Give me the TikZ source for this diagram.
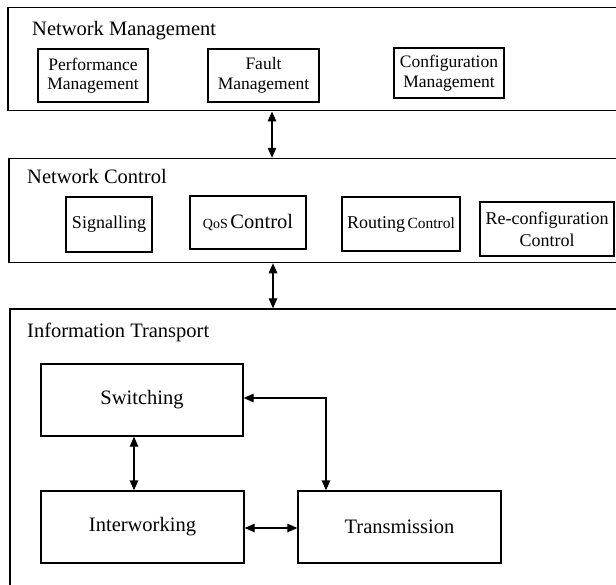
\documentclass[tikz,border=0pt]{standalone}
\usepackage{fontspec}
\setmainfont{Liberation Serif}
\usetikzlibrary{arrows.meta}
\begin{document}
\begin{tikzpicture}[x=1pt,y=-1pt,
  layer/.style={draw, line width=1.5pt, rectangle, inner sep=0pt},
  unit/.style={draw, line width=1.3pt, rectangle, inner sep=0pt, align=center},
  title/.style={anchor=base west, inner sep=0pt, font=\fontsize{20.5}{24}\selectfont},
  link/.style={line width=1.3pt, {Triangle[length=10pt,width=8.5pt]}-{Triangle[length=10pt,width=8.5pt]}}]
\useasboundingbox (0,0) rectangle (616,584);
\clip (0,0) rectangle (616,584);

% three layers (they run on past the right and lower edges)
\node[layer, minimum width=640pt, minimum height=103.4pt] (nm) at (328,59) {};
\node[layer, minimum width=639pt, minimum height=104pt] (nc) at (328.5,210.5) {};
\node[layer, minimum width=638pt, minimum height=331pt] (it) at (329,474.5) {};

\node[title] (nmt) at (32,35) {Network Management};
\node[title] (nct) at (27,183) {Network Control};
\node[title] (itt) at (27,337) {Information Transport};

% management functions
\node[unit, minimum width=110pt, minimum height=53pt,
      font=\fontsize{17.5}{19.5}\selectfont] (perf) at (93,75.5) {Performance\\Management};
\node[unit, minimum width=111pt, minimum height=53pt,
      font=\fontsize{17.5}{19.5}\selectfont] (fault) at (263.5,75.5) {Fault\\Management};
\node[unit, minimum width=110pt, minimum height=50pt,
      font=\fontsize{17.5}{19.5}\selectfont] (conf) at (449,73) {Configuration\\Management};

% control functions
\node[unit, minimum width=86pt, minimum height=55pt,
      font=\fontsize{18}{20}\selectfont] (sig) at (109,224.5) {Signalling};
\node[unit, minimum width=116pt, minimum height=53pt] (qos) at (248,222.5)
      {{\fontsize{14}{16}\selectfont QoS} {\fontsize{20.5}{22}\selectfont Control}};
\node[unit, minimum width=118pt, minimum height=54pt] (rout) at (401,224)
      {{\fontsize{18}{20}\selectfont Routing} {\fontsize{15.5}{18}\selectfont Control}};
\node[unit, minimum width=134pt, minimum height=54pt,
      font=\fontsize{18}{21.5}\selectfont] (reconf) at (547,229) {Re-configuration\\Control};

% transport functions
\node[unit, minimum width=202pt, minimum height=72pt,
      font=\fontsize{20.5}{24}\selectfont] (sw) at (142,400) {Switching};
\node[unit, minimum width=203pt, minimum height=72pt,
      font=\fontsize{20.5}{24}\selectfont] (iw) at (142.5,527) {Interworking};
\node[unit, minimum width=203pt, minimum height=72pt,
      font=\fontsize{20.5}{24}\selectfont] (tx) at (399.5,527) {Transmission};

% connectors
\coordinate (a1) at (272,0);
\coordinate (a2) at (273,0);
\coordinate (a3) at (134,0);
\coordinate (a4) at (0,528);
\coordinate (a5) at (326,398);
\draw[link] (nm.south -| a1) -- (nc.north -| a1);
\draw[link] (nc.south -| a2) -- (it.north -| a2);
\draw[link] (sw.south -| a3) -- (iw.north -| a3);
\draw[link] (iw.east |- a4) -- (tx.west |- a4);
\draw[link] (sw.east |- a5) -- (a5) -- (tx.north -| a5);
\end{tikzpicture}
\end{document}
